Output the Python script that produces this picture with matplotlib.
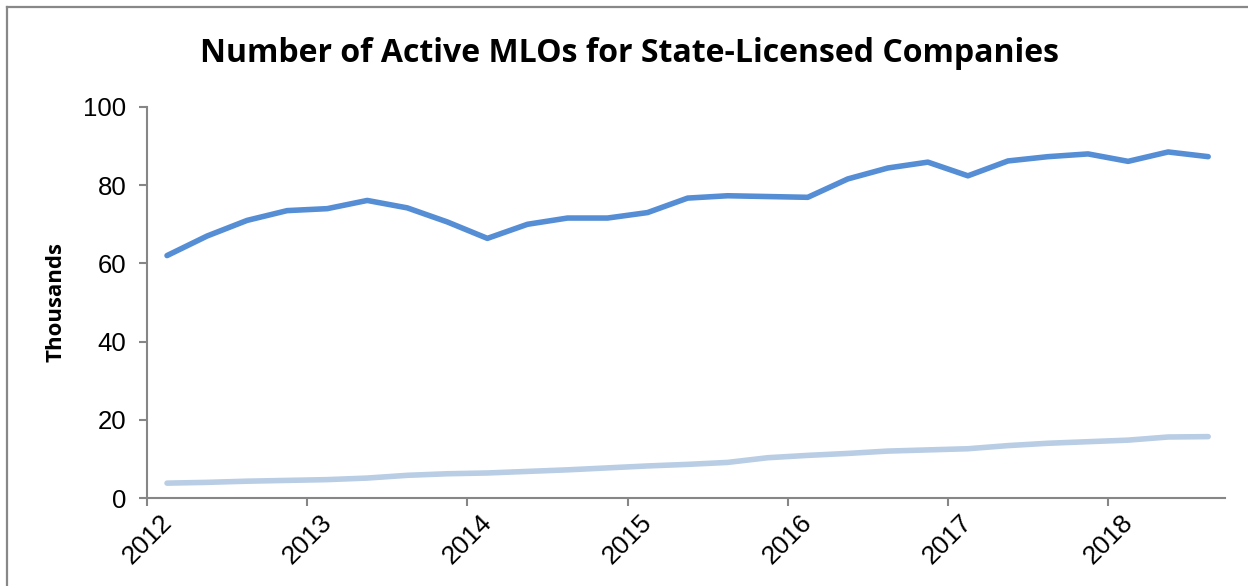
import numpy as np
import matplotlib
matplotlib.use("Agg")
import matplotlib.pyplot as plt
from matplotlib.lines import Line2D

# quarterly data, 2012Q1 .. 2018Q3 (thousands)
years = [2012, 2013, 2014, 2015, 2016, 2017, 2018]
active_mlos = [62.0, 67.0, 71.0, 73.5, 74.0, 76.1, 74.2, 70.6, 66.4,
               70.0, 71.6, 71.6, 73.0, 76.7, 77.3, 77.1, 76.9, 81.6,
               84.4, 85.9, 82.4, 86.2, 87.3, 88.0, 86.1, 88.5, 87.3]
other_mlos = [3.8, 4.0, 4.3, 4.5, 4.7, 5.1, 5.8, 6.2, 6.4,
              6.8, 7.2, 7.7, 8.2, 8.6, 9.1, 10.3, 10.9, 11.4,
              12.0, 12.3, 12.6, 13.4, 14.0, 14.4, 14.8, 15.6, 15.7]

# mid-quarter positions
x = 2012 + 0.125 + 0.25 * np.arange(len(active_mlos))

fig = plt.figure(figsize=(12.48, 5.86), dpi=100)
ax = fig.add_axes([147/1248, 1 - 498/586, (1225 - 147)/1248, (498 - 107)/586])

ax.plot(x, other_mlos, color="#B9CDE5", lw=4, solid_capstyle="round")
ax.plot(x, active_mlos, color="#558ED5", lw=4, solid_capstyle="round")

ax.set_xlim(2012, 2018.73)
ax.set_ylim(0, 100)
ax.set_yticks([0, 20, 40, 60, 80, 100])
ax.set_xticks(years)
ax.set_xticklabels([str(y) for y in years], rotation=45, ha="center",
                   fontsize=19, family="Liberation Sans")
for lab in ax.get_yticklabels():
    lab.set_family("Liberation Sans")
    lab.set_fontsize(18.5)

for s in ["top", "right"]:
    ax.spines[s].set_visible(False)
for s in ["left", "bottom"]:
    ax.spines[s].set_color("#868686")
    ax.spines[s].set_linewidth(1.5)
ax.tick_params(axis="both", direction="out", length=6, width=1.5,
               color="#868686", labelcolor="black")
ax.tick_params(axis="y", pad=9)
ax.tick_params(axis="x", pad=3)

ax.set_ylabel("Thousands", fontsize=16, fontweight="bold",
              family="Open Sans", labelpad=12)

fig.text(630/1248, 1 - 54/586, "Number of Active MLOs for State-Licensed Companies",
         ha="center", va="center", fontsize=23, fontweight="bold", family="Open Sans")

# outer chart frame (left and top edges)
fig.add_artist(Line2D([7/1248, 7/1248], [0, 1 - 7/586], transform=fig.transFigure,
                      color="#888888", lw=1.6))
fig.add_artist(Line2D([7/1248, 1], [1 - 7/586, 1 - 7/586], transform=fig.transFigure,
                      color="#888888", lw=1.6))

fig.savefig("out.png", dpi=100, facecolor="white")
